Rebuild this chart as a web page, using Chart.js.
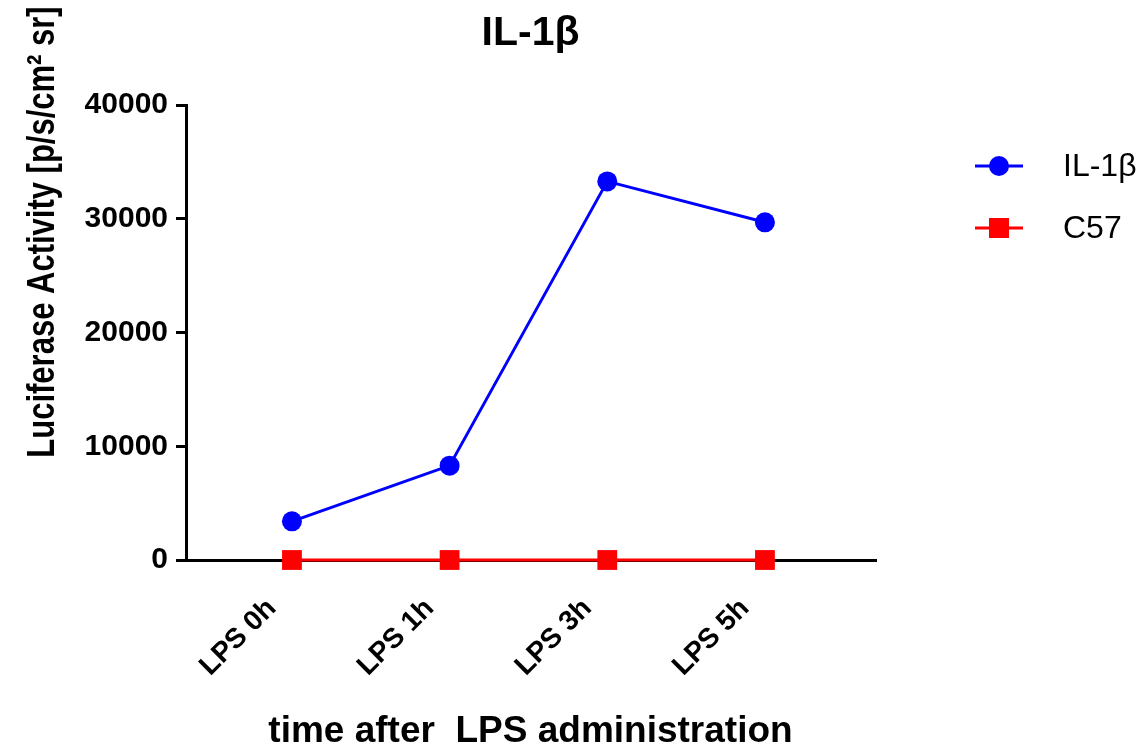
<!DOCTYPE html>
<html>
<head>
<meta charset="utf-8">
<title>IL-1β</title>
<script src="https://cdn.jsdelivr.net/npm/chart.js@4/dist/chart.umd.min.js"></script>
<style>
    html, body { margin: 0; padding: 0; background: #fff; }
    #wrap { width: 1142px; height: 751px; }
</style>
</head>
<body>
<div id="wrap"><canvas id="chart" width="1142" height="751"></canvas></div>
<script>
// データ
const categories = ['LPS 0h', 'LPS 1h', 'LPS 3h', 'LPS 5h'];
const il1bValues = [3400, 8300, 33300, 29700];
const c57Values = [0, 0, 0, 0];
const yTicks = [0, 10000, 20000, 30000, 40000];
const yTitle = 'Luciferase Activity [p/s/cm² sr]';

const FONT = '"Liberation Sans", Arial, Helvetica, sans-serif';

// 縦軸タイトル（チャート中央より上寄せ）
const yTitlePlugin = {
    id: 'yTitlePlugin',
    afterDraw(chart) {
        const ctx = chart.ctx;
        ctx.save();
        ctx.translate(43, 232);
        ctx.rotate(-Math.PI / 2);
        ctx.scale(1, 1.25);
        ctx.font = 'bold 31px ' + FONT;
        ctx.fillStyle = '#000';
        ctx.textAlign = 'center';
        ctx.textBaseline = 'middle';
        ctx.fillText(yTitle, 0, 0);
        ctx.restore();
    },
};

// 右側の凡例（線＋マーカー）
const sideLegend = {
    id: 'sideLegend',
    afterDraw(chart) {
        const ctx = chart.ctx;
        const x0 = 975;
        const rows = [166, 228];
        ctx.save();
        chart.data.datasets.forEach((ds, i) => {
            const y = rows[i];
            ctx.strokeStyle = ds.borderColor;
            ctx.lineWidth = ds.borderWidth;
            ctx.beginPath();
            ctx.moveTo(x0, y);
            ctx.lineTo(x0 + 48, y);
            ctx.stroke();
            ctx.fillStyle = ds.backgroundColor;
            if (ds.pointStyle === 'rect') {
                ctx.fillRect(x0 + 14, y - 10, 20, 20);
            } else {
                ctx.beginPath();
                ctx.arc(x0 + 24, y, 10, 0, Math.PI * 2);
                ctx.fill();
            }
            ctx.fillStyle = '#000';
            ctx.font = '32px ' + FONT;
            ctx.textBaseline = 'middle';
            ctx.textAlign = 'left';
            ctx.fillText(ds.label, x0 + 88, y + 1);
        });
        ctx.restore();
    },
};

new Chart(document.getElementById('chart'), {
    type: 'line',
    data: {
        datasets: [{
            label: 'IL-1β',
            data: il1bValues.map((v, i) => ({ x: i, y: v })),
            borderColor: '#0000FF',
            backgroundColor: '#0000FF',
            borderWidth: 3,
            pointStyle: 'circle',
            pointRadius: 10,
            pointHoverRadius: 10,
            pointBorderWidth: 0,
            tension: 0,
            clip: false,
        }, {
            label: 'C57',
            data: c57Values.map((v, i) => ({ x: i, y: v })),
            borderColor: '#FF0000',
            backgroundColor: '#FF0000',
            borderWidth: 3,
            pointStyle: 'rect',
            pointRadius: 14,
            pointHoverRadius: 14,
            pointBorderWidth: 0,
            tension: 0,
            clip: false,
        }],
    },
    options: {
        responsive: false,
        animation: false,
        devicePixelRatio: 1,
        layout: { padding: { left: 0, right: 267, top: 0, bottom: 0 } },
        plugins: {
            legend: { display: false },
            tooltip: { enabled: false },
            title: {
                display: true,
                text: 'IL-1β',
                fullSize: false,
                color: '#000',
                font: { family: FONT, size: 41, weight: 'bold', lineHeight: 1.2 },
                padding: { top: 9, bottom: 47 },
            },
        },
        scales: {
            x: {
                type: 'linear',
                min: -0.672,
                max: 3.698,
                afterBuildTicks: s => { s.ticks = categories.map((_, i) => ({ value: i })); },
                afterFit: s => { s.height = 751 - 560; },
                border: { display: true, color: '#000', width: 3 },
                grid: { drawOnChartArea: false, drawTicks: true, tickLength: 8, color: '#000', lineWidth: 3 },
                ticks: {
                    autoSkip: false,
                    maxRotation: 45,
                    minRotation: 45,
                    padding: 24,
                    labelOffset: -20,
                    color: '#000',
                    font: { family: FONT, size: 28, weight: 'bold' },
                    callback: v => categories[v] ?? '',
                },
                title: {
                    display: true,
                    text: 'time after  LPS administration',
                    color: '#000',
                    font: { family: FONT, size: 37, weight: 'bold', lineHeight: 1 },
                    padding: { top: 0, bottom: 1 },
                },
            },
            y: {
                min: 0,
                max: 40000,
                afterBuildTicks: s => { s.ticks = yTicks.map(v => ({ value: v })); },
                afterFit: s => { s.width = 186; },
                border: { display: true, color: '#000', width: 3 },
                grid: { drawOnChartArea: false, drawTicks: true, tickLength: 10, color: '#000', lineWidth: 3 },
                ticks: {
                    padding: 8,
                    color: '#000',
                    font: { family: FONT, size: 30, weight: 'bold' },
                    callback: v => String(v),
                },
                title: { display: false },
            },
        },
    },
    plugins: [sideLegend, yTitlePlugin],
});
</script>
</body>
</html>
